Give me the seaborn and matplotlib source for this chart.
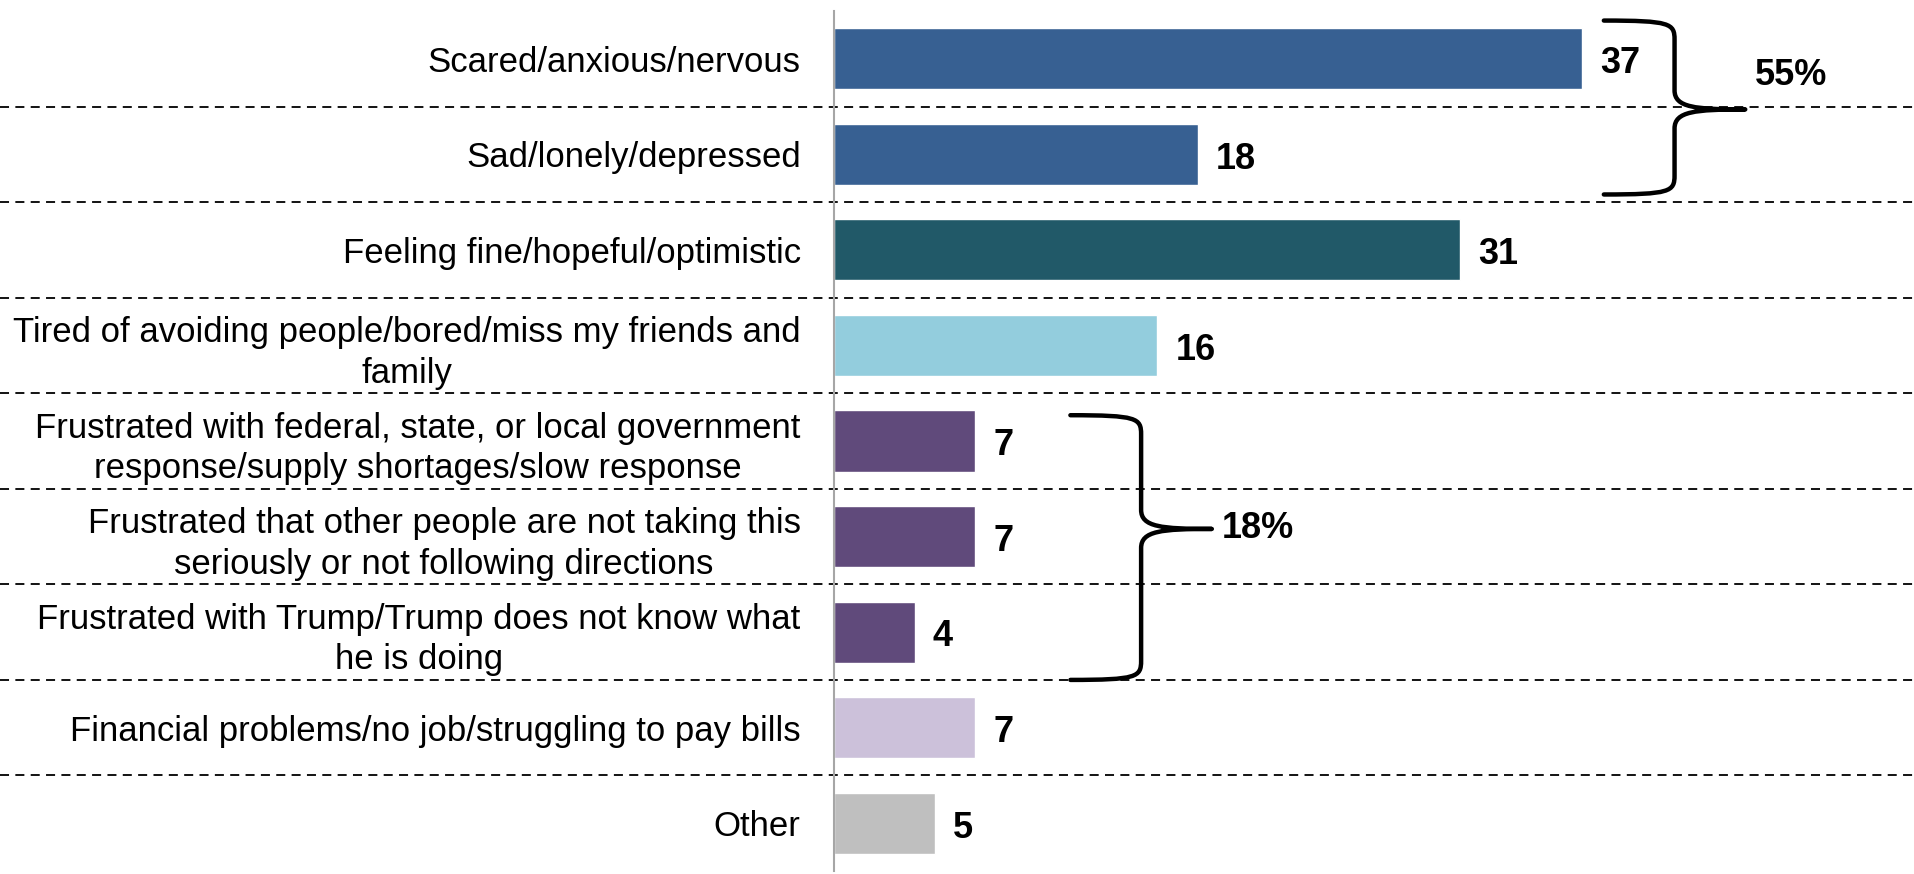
import matplotlib.pyplot as plt
import matplotlib.transforms as mtransforms
from matplotlib.path import Path
from matplotlib.patches import PathPatch
import numpy as np
import pandas as pd
import seaborn as sns

categories = [
    "Scared/anxious/nervous",
    "Sad/lonely/depressed",
    "Feeling fine/hopeful/optimistic",
    "Tired of avoiding people/bored/miss my friends and family",
    "Frustrated with federal, state, or local government response/supply shortages/slow response",
    "Frustrated that other people are not taking this seriously or not following directions",
    "Frustrated with Trump/Trump does not know what he is doing",
    "Financial problems/no job/struggling to pay bills",
    "Other",
]
tick_labels = [
    "Scared/anxious/nervous",
    "Sad/lonely/depressed",
    "Feeling fine/hopeful/optimistic",
    "Tired of avoiding people/bored/miss my friends and\nfamily",
    "Frustrated with federal, state, or local government\nresponse/supply shortages/slow response",
    "Frustrated that other people are not taking this\nseriously or not following directions",
    "Frustrated with Trump/Trump does not know what\nhe is doing",
    "Financial problems/no job/struggling to pay bills",
    "Other",
]
values = [37, 18, 31, 16, 7, 7, 4, 7, 5]
colors = ["#376092", "#376092", "#215968", "#93CDDD", "#604A7B",
          "#604A7B", "#604A7B", "#CCC1DA", "#BFBFBF"]

# brace annotations: (top y, bottom y, tip y, left x, label, label y)
braces = [
    (-0.40, 1.42, 0.53, 38.1, "55%", 0.18),
    (3.73, 6.50, 4.92, 11.7, "18%", 4.92),
]

sns.set_style("white")
plt.rcParams["font.family"] = ["Liberation Sans Narrow", "Liberation Sans", "DejaVu Sans"]
plt.rcParams["text.color"] = "black"
plt.rcParams["ytick.labelcolor"] = "black"

df = pd.DataFrame({"category": categories, "value": values})

fig = plt.figure(figsize=(19.15, 8.74), dpi=100)
left = 0.4355
ax = fig.add_axes([left, 0.0034, 1 - left, 0.984])

sns.barplot(data=df, x="value", y="category", hue="category", palette=colors,
            order=categories, hue_order=categories, legend=False, width=0.64,
            saturation=1, ax=ax)

ax.set_xlim(0, 53.5)
ax.set_ylim(len(categories) - 0.5, -0.5)
ax.set_xlabel("")
ax.set_ylabel("")
ax.set_xticks([])
ax.set_yticks(range(len(categories)))
ax.set_yticklabels(tick_labels, fontsize=25, color="black")
for lab in ax.get_yticklabels():
    lab.set_multialignment("center")
    lab.set_linespacing(1.3)
ax.tick_params(axis="y", which="major", length=0, pad=24)
ax.set_yticks(np.arange(-0.5, len(categories), 1), minor=True)
ax.tick_params(axis="y", which="minor", length=7, width=1.5, color="#A6A6A6")

for side in ["top", "right", "bottom"]:
    ax.spines[side].set_visible(False)
ax.spines["left"].set_color("#A6A6A6")
ax.spines["left"].set_linewidth(1.5)

# value labels
for i, v in enumerate(values):
    ax.text(v + 0.9, i + 0.05, str(v), va="center", ha="left", fontsize=26,
            fontweight="bold", color="black")

# dashed separators across the whole figure width
trans = mtransforms.blended_transform_factory(ax.transAxes, ax.transData)
x_start = -left / (1 - left)
for y in np.arange(0.5, len(categories) - 1, 1):
    ax.plot([x_start, 1], [y, y], transform=trans, clip_on=False,
            color="black", lw=1.3, ls=(0, (5, 3.5)), zorder=0)

# curly braces
for ytop, ybot, ymid, x0, label, ly in braces:
    dx = 3.5
    xs = x0 + dx
    xt = xs + dx
    r = 0.2
    verts = [
        (x0, ytop),
        (xs - 0.2, ytop), (xs, ytop + 0.03), (xs, ytop + r),
        (xs, ymid - r),
        (xs, ymid - 0.02), (xs + 1.0, ymid), (xt, ymid),
        (xs + 1.0, ymid), (xs, ymid + 0.02), (xs, ymid + r),
        (xs, ybot - r),
        (xs, ybot - 0.03), (xs - 0.2, ybot), (x0, ybot),
    ]
    codes = [Path.MOVETO,
             Path.CURVE4, Path.CURVE4, Path.CURVE4,
             Path.LINETO,
             Path.CURVE4, Path.CURVE4, Path.CURVE4,
             Path.CURVE4, Path.CURVE4, Path.CURVE4,
             Path.LINETO,
             Path.CURVE4, Path.CURVE4, Path.CURVE4]
    ax.add_patch(PathPatch(Path(verts, codes), facecolor="none",
                           edgecolor="black", lw=3.2, clip_on=False,
                           capstyle="round", joinstyle="round"))
    ax.text(xt + 0.5, ly, label, va="center", ha="left", fontsize=26,
            fontweight="bold", color="black")

fig.savefig("out.png", dpi=100)
plt.close(fig)
